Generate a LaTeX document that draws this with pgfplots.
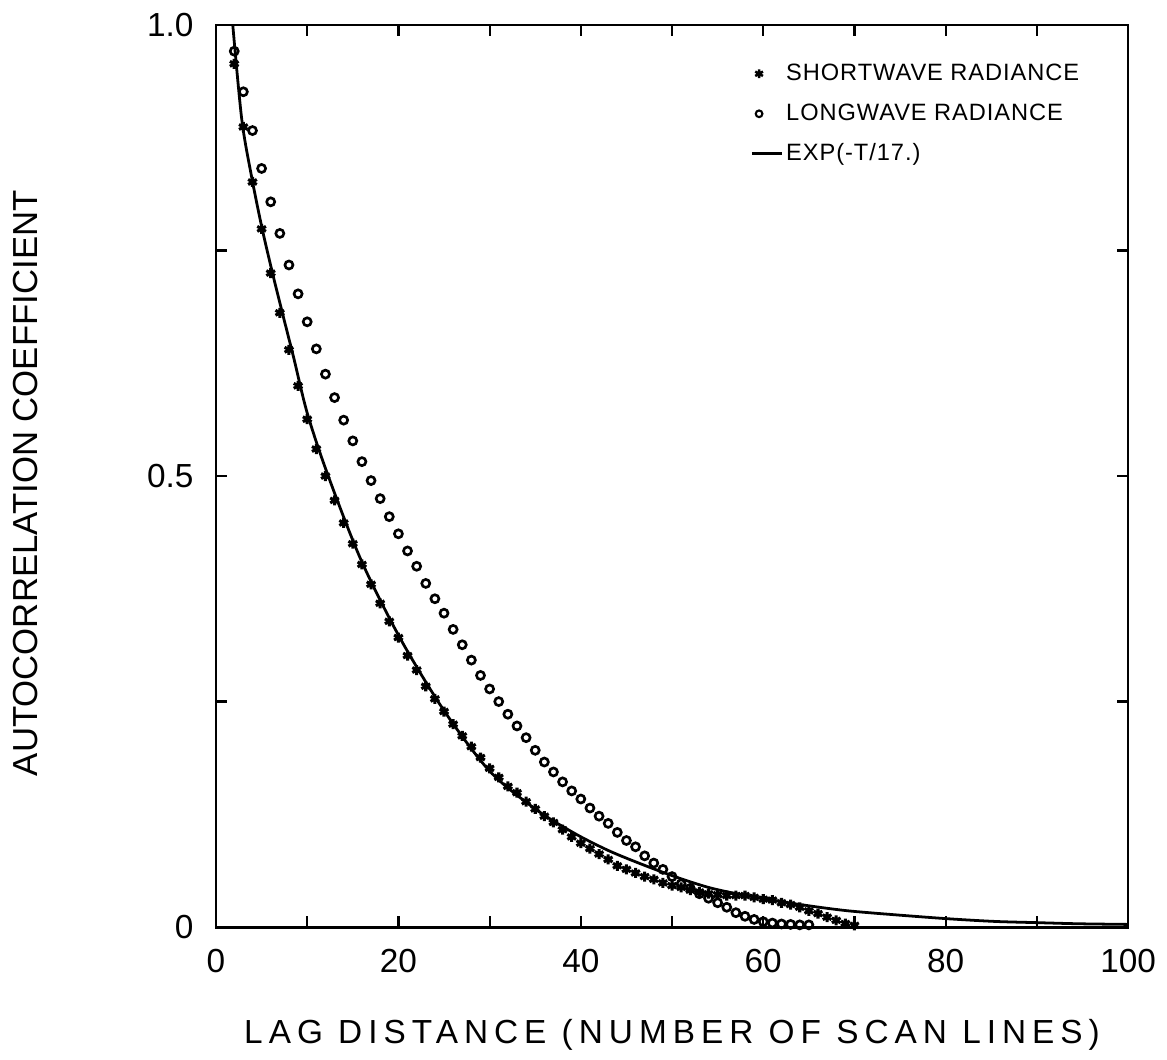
\documentclass[border=0pt]{standalone}
\usepackage{fontspec}
\setmainfont{Liberation Sans}
\newfontfamily\xlabfont[LetterSpace=18]{Liberation Sans}
\newfontfamily\legfont[LetterSpace=4]{Liberation Sans}
\usepackage{pgfplots}
\pgfplotsset{compat=1.18}
\pgfplotsset{
  starleg/.style={legend image code/.code={\draw[##1, mark size=1.6pt, line width=0.9pt] plot coordinates {(0.09cm,0cm)};}},
  circleg/.style={legend image code/.code={\draw[##1, mark size=1.2pt, line width=0.75pt] plot coordinates {(0.09cm,0cm)};}},
  lineleg/.style={legend image code/.code={\draw[##1] (0cm,0cm) -- (0.38cm,0cm);}},
}
\pgfplotstableread{
x y
2 0.957
3 0.887
4 0.826
5 0.774
6 0.725
7 0.681
8 0.640
9 0.600
10 0.563
11 0.530
12 0.500
13 0.473
14 0.448
15 0.425
16 0.402
17 0.380
18 0.359
19 0.339
20 0.321
21 0.301
22 0.285
23 0.267
24 0.253
25 0.239
26 0.225
27 0.212
28 0.200
29 0.188
30 0.176
31 0.166
32 0.156
33 0.149
34 0.139
35 0.131
36 0.123
37 0.116
38 0.108
39 0.100
40 0.093
41 0.087
42 0.081
43 0.075
44 0.068
45 0.064
46 0.060
47 0.056
48 0.053
49 0.049
50 0.046
51 0.044
52 0.041
53 0.039
54 0.037
55 0.036
56 0.035
57 0.035
58 0.035
59 0.033
60 0.031
61 0.030
62 0.027
63 0.025
64 0.022
65 0.018
66 0.015
67 0.011
68 0.0075
69 0.004
70 0.002
}\shortwave
\pgfplotstableread{
x y
2 0.971
3 0.926
4 0.883
5 0.841
6 0.804
7 0.769
8 0.734
9 0.702
10 0.671
11 0.641
12 0.613
13 0.587
14 0.562
15 0.539
16 0.516
17 0.495
18 0.475
19 0.455
20 0.436
21 0.417
22 0.400
23 0.381
24 0.364
25 0.348
26 0.330
27 0.313
28 0.296
29 0.279
30 0.264
31 0.250
32 0.236
33 0.223
34 0.210
35 0.196
36 0.183
37 0.172
38 0.161
39 0.151
40 0.142
41 0.132
42 0.123
43 0.115
44 0.105
45 0.096
46 0.089
47 0.079
48 0.071
49 0.064
50 0.056
51 0.048
52 0.043
53 0.037
54 0.032
55 0.027
56 0.022
57 0.016
58 0.012
59 0.0085
60 0.0060
61 0.0045
62 0.0035
63 0.0030
64 0.0025
65 0.0025
}\longwave
\pgfplotstableread{
x y
1.84 1.0
2.83 0.895
3.9 0.832
5.0 0.777
6.1 0.729
7.2 0.684
8.5 0.632
10 0.570
12.2 0.503
15.9 0.407
20.2 0.320
25 0.240
30 0.173
35 0.131
39.3 0.104
43 0.085
46.6 0.070
50.3 0.056
54 0.044
57.6 0.036
63.4 0.026
68.9 0.0185
74.4 0.0137
80.2 0.0093
85.4 0.0063
90.2 0.0049
94.6 0.0037
100 0.003
}\fitcurve
\begin{document}
\begin{tikzpicture}
\useasboundingbox (-77.7pt,-47.8pt) rectangle (342.1pt,333.5pt);
\begin{axis}[
  scale only axis, width=328.1pt, height=324.5pt,
  xmin=0, xmax=100, ymin=0, ymax=1,
  axis line style={line width=1pt},
  xtick={0,10,...,100}, xticklabels={0,,20,,40,,60,,80,,100},
  ytick={0,0.25,0.5,0.75,1}, yticklabels={0,,0.5,,1.0},
  tick align=inside, major tick length=4pt,
  tick style={line width=0.8pt, black},
  ticklabel style={font=\fontsize{12}{14}\selectfont},
  xticklabel style={yshift=-4.3pt},
  yticklabel style={xshift=-4.6pt},
  /pgf/number format/assume math mode=true,
  xlabel={LAG DISTANCE (NUMBER OF SCAN LINES)},
  ylabel={AUTOCORRELATION COEFFICIENT},
  xlabel style={at={(axis description cs:0.5,-0.1196)}, anchor=center, font=\xlabfont\fontsize{12}{13}\selectfont},
  ylabel style={at={(axis description cs:-0.2088,0.492)}, anchor=center, font=\fontsize{12.5}{14}\selectfont},
  legend style={draw=none, fill=none, at={(axis description cs:0.5855,0.962)}, anchor=north west,
    font=\legfont\fontsize{8.5}{10}\selectfont, row sep=4.4pt, column sep=0pt,
    nodes={text height=6.5pt, text depth=1.5pt, inner sep=1pt}, inner sep=0pt},
  legend cell align=left,
]
\addplot[only marks, mark=asterisk, mark size=1.8pt, line width=1.1pt, black, starleg] table[x=x,y=y] {\shortwave};
\addlegendentry{SHORTWAVE RADIANCE}
\addplot[only marks, mark=o, mark size=1.45pt, line width=0.95pt, black, circleg] table[x=x,y=y] {\longwave};
\addlegendentry{LONGWAVE RADIANCE}
\addplot[smooth, no marks, line width=1pt, black, lineleg] table[x=x,y=y] {\fitcurve};
\addlegendentry{EXP(-T/17.)}
\end{axis}
\end{tikzpicture}
\end{document}
